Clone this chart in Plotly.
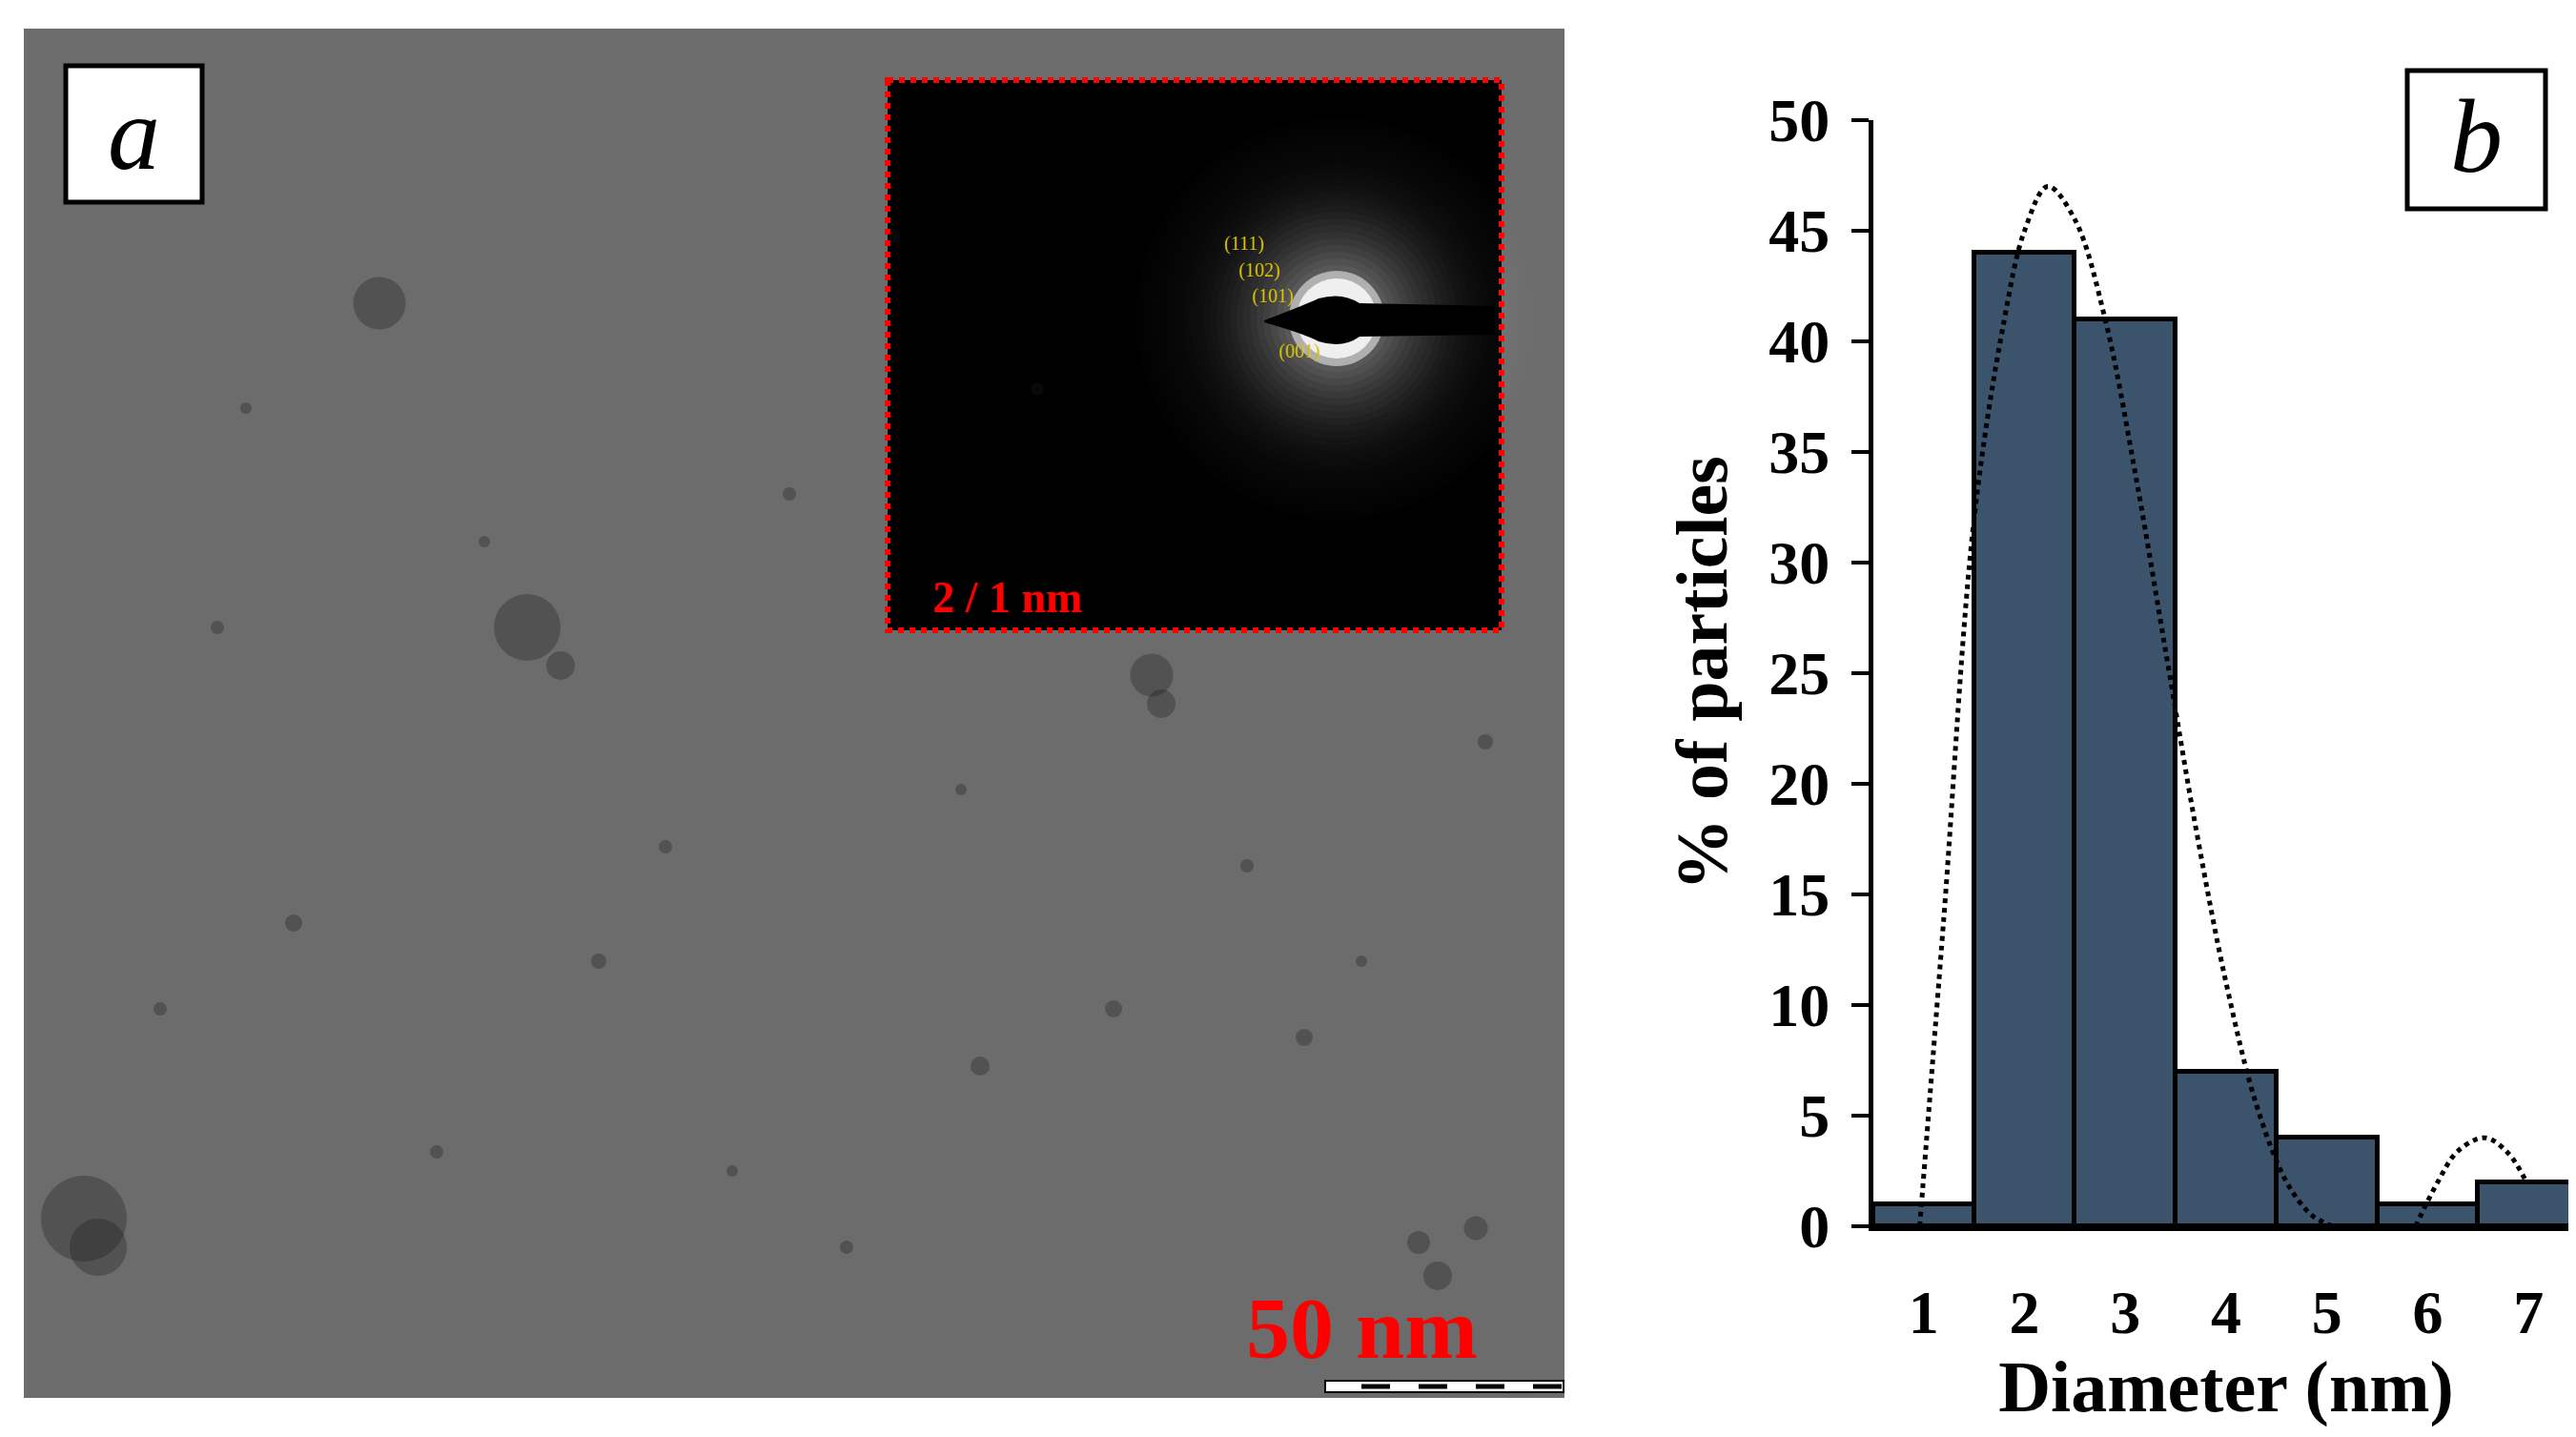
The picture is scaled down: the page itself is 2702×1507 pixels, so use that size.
import plotly.graph_objects as go

W, H = 2702, 1507

# histogram data
diameters = [1, 2, 3, 4, 5, 6, 7]
percent = [1, 44, 41, 7, 4, 1, 2]
y_ticks = [0, 5, 10, 15, 20, 25, 30, 35, 40, 45, 50]

# fitted curve (two pieces)
fit1_x = [0.96, 1.2, 1.5, 1.8, 2.0, 2.23, 2.5, 2.8, 3.1, 3.4, 3.7, 4.0, 4.3, 4.6, 4.85, 5.06]
fit1_y = [0, 14, 32, 41, 45, 47, 45.5, 41, 34, 26, 18, 11, 5.5, 2, 0.5, 0]
fit2_x = [5.88, 6.1, 6.3, 6.57, 6.8, 6.98]
fit2_y = [0, 2, 3.4, 4, 3.3, 2]

# dark spots in the micrograph (pixel x, pixel y, size)
spot_x = [80, 95, 545, 580, 390, 1200, 1210, 1500, 1540, 300, 1020, 1360, 690, 820, 1480, 220,
          1160, 1080, 1550, 450, 930, 160, 620, 760, 1300, 880, 250, 1420, 500, 1000]
spot_y = [1270, 1300, 650, 690, 310, 700, 730, 1330, 1280, 960, 1110, 1080, 880, 510, 1295, 650,
          1050, 400, 770, 1200, 240, 1050, 1000, 1220, 900, 1300, 420, 1000, 560, 820]
spot_s = [90, 60, 70, 30, 55, 45, 30, 30, 25, 18, 20, 18, 14, 14, 24, 14,
          18, 14, 16, 14, 14, 14, 16, 12, 14, 14, 12, 12, 12, 12]

# diffraction ring labels
hkl = ["(111)", "(102)", "(101)", "(001)"]
hkl_x = [1297, 1313, 1327, 1355]
hkl_y = [249, 277, 304, 362]

FONT = "Liberation Serif"

fig = go.Figure()

fig.add_trace(go.Bar(
    x=diameters, y=percent, width=1.0,
    marker=dict(color="#3b536b", line=dict(color="black", width=5)),
    xaxis="x", yaxis="y", showlegend=False))
for fx, fy in [(fit1_x, fit1_y), (fit2_x, fit2_y)]:
    fig.add_trace(go.Scatter(
        x=fx, y=fy, mode="lines", line=dict(color="black", width=5, dash="dot", shape="spline"),
        xaxis="x", yaxis="y", showlegend=False))

fig.add_trace(go.Scatter(
    x=spot_x, y=spot_y, mode="markers",
    marker=dict(size=spot_s, color="rgba(25,25,25,0.45)", line=dict(width=0)),
    xaxis="x2", yaxis="y2", showlegend=False))
fig.add_trace(go.Scatter(
    x=hkl_x, y=hkl_y, mode="text", text=hkl,
    textfont=dict(family=FONT, size=20, color="#d8c000"),
    xaxis="x2", yaxis="y2", showlegend=False))

shapes = []
# micrograph background
shapes.append(dict(type="rect", xref="x2", yref="y2", x0=17, y0=22, x1=1633, y1=1458,
                   fillcolor="#6c6c6c", line=dict(width=0), layer="below"))
# inset
shapes.append(dict(type="rect", xref="x2", yref="y2", x0=923, y0=76, x1=1567, y1=653,
                   fillcolor="black", line=dict(color="red", width=6, dash="dot"), layer="below"))
cx, cy = 1394, 326
for i in range(24):
    r = 210 - i * 7
    shapes.append(dict(type="circle", xref="x2", yref="y2", x0=cx - r, y0=cy - r, x1=cx + r, y1=cy + r,
                       fillcolor="white", opacity=0.006 + 0.00009 * i * i, line=dict(width=0),
                       layer="below"))
for r, op in [(50, 0.5), (42, 0.8)]:
    shapes.append(dict(type="circle", xref="x2", yref="y2", x0=cx - r, y0=cy - r, x1=cx + r, y1=cy + r,
                       fillcolor="white", opacity=op, line=dict(width=0), layer="below"))
shapes.append(dict(type="path", xref="x2", yref="y2",
                   path="M 1318 328 Q 1360 312 1375 305 Q 1400 298 1418 310 L 1560 313 L 1560 343 "
                        "L 1418 345 Q 1400 358 1375 350 Q 1360 342 1318 330 Z",
                   fillcolor="black", line=dict(width=0), layer="below"))
# scale bar
shapes.append(dict(type="rect", xref="x2", yref="y2", x0=1382, y0=1440, x1=1632, y1=1452,
                   fillcolor="white", line=dict(color="black", width=2), layer="below"))
for bx in [1420, 1480, 1540, 1600]:
    shapes.append(dict(type="line", xref="x2", yref="y2", x0=bx, y0=1446, x1=bx + 30, y1=1446,
                       line=dict(color="black", width=5), layer="below"))
# label boxes
shapes.append(dict(type="rect", xref="x2", yref="y2", x0=61, y0=61, x1=204, y1=204,
                   fillcolor="white", line=dict(color="black", width=5)))
shapes.append(dict(type="rect", xref="x2", yref="y2", x0=2517, y0=66, x1=2662, y1=211,
                   fillcolor="white", line=dict(color="black", width=5)))

annotations = [
    dict(x=132, y=132, xref="x2", yref="y2", text="<i>a</i>", showarrow=False,
         font=dict(family=FONT, size=110, color="black")),
    dict(x=2589, y=135, xref="x2", yref="y2", text="<i>b</i>", showarrow=False,
         font=dict(family=FONT, size=110, color="black")),
    dict(x=1420, y=1385, xref="x2", yref="y2", text="<b>50 nm</b>", showarrow=False,
         font=dict(family=FONT, size=92, color="red")),
    dict(x=1048, y=618, xref="x2", yref="y2", text="<b>2 / 1 nm</b>", showarrow=False,
         font=dict(family=FONT, size=46, color="red")),
]

fig.update_layout(
    width=W, height=H, margin=dict(l=0, r=0, t=0, b=0, autoexpand=False),
    paper_bgcolor="white", plot_bgcolor="rgba(0,0,0,0)",
    font=dict(family=FONT, color="black"),
    bargap=0,
    shapes=shapes, annotations=annotations,
    xaxis=dict(domain=[1957 / W, 2697 / W], range=[0.5, 7.5], tickvals=diameters,
               ticktext=[f"<b>{d}</b>" for d in diameters], automargin=False,
               showline=True, linecolor="black", linewidth=5, ticks="", showgrid=False,
               zeroline=False, tickfont=dict(size=64, family=FONT), ticklabelstandoff=30,
               title=dict(text="<b>Diameter (nm)</b>", font=dict(size=76, family=FONT), standoff=5),
               anchor="y"),
    yaxis=dict(domain=[(H - 1278) / H, (H - 118) / H], range=[0, 50], tickvals=y_ticks,
               ticktext=[f"<b>{t}</b>" for t in y_ticks], automargin=False,
               showline=True, linecolor="black", linewidth=5, ticks="outside", ticklen=18,
               tickwidth=4, tickcolor="black", showgrid=False, zeroline=False,
               tickfont=dict(size=64, family=FONT), ticklabelstandoff=10,
               title=dict(text="<b>% of particles</b>", font=dict(size=76, family=FONT), standoff=20),
               anchor="x"),
    xaxis2=dict(domain=[0, 1], range=[0, W], visible=False, anchor="y2", automargin=False),
    yaxis2=dict(domain=[0, 1], range=[H, 0], visible=False, anchor="x2", automargin=False),
)

fig.write_html("out.html")
